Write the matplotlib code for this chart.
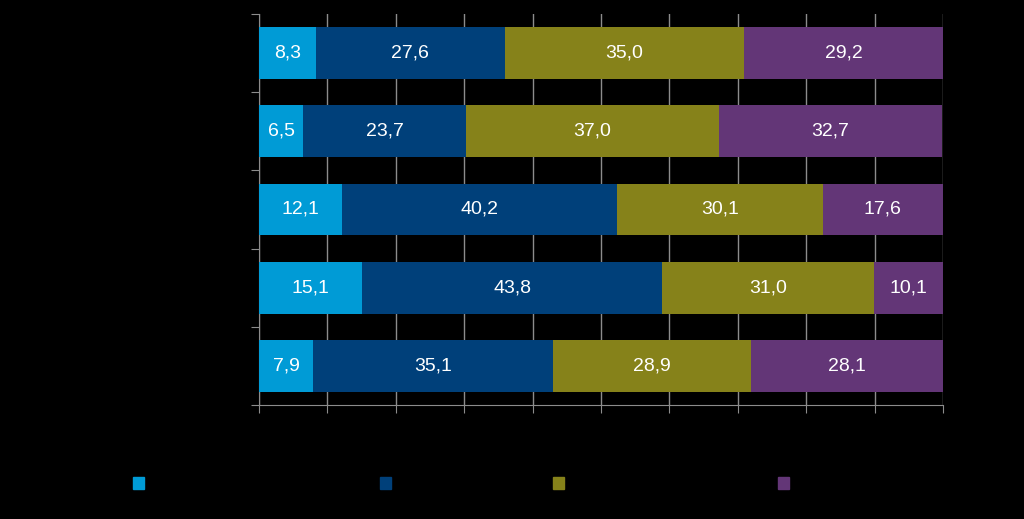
import numpy as np
import matplotlib.pyplot as plt
from matplotlib.patches import Patch

# Data (top row first)
categories = ['Group 1', 'Group 2', 'Group 3', 'Group 4', 'Group 5']
series_names = ['Series 1', 'Series 2', 'Series 3', 'Series 4']
s1 = [8.3, 6.5, 12.1, 15.1, 7.9]
s2 = [27.6, 23.7, 40.2, 43.8, 35.1]
s3 = [35.0, 37.0, 30.1, 31.0, 28.9]
s4 = [29.2, 32.7, 17.6, 10.1, 28.1]

colors = ['#009BD6', '#00407A', '#86821A', '#633677']

plt.rcParams['font.family'] = ['Liberation Sans', 'DejaVu Sans']

fig = plt.figure(figsize=(10.24, 5.19), dpi=100, facecolor='black')
ax = fig.add_axes([259 / 1024, 1 - 405 / 519, 684 / 1024, 391 / 519])
ax.set_facecolor('black')

n = len(categories)
y = np.arange(n)[::-1]  # first category on top
left = np.zeros(n)
for vals, col, name in zip([s1, s2, s3, s4], colors, series_names):
    vals = np.array(vals)
    ax.barh(y, vals, left=left, height=0.66, color=col, zorder=3, label=name)
    for yi, l, v in zip(y, left, vals):
        ax.text(l + v / 2, yi, f'{v:.1f}'.replace('.', ','), ha='center', va='center',
                color='white', fontsize=14, zorder=4)
    left += vals

ax.set_xlim(0, 100)
ax.set_ylim(-0.5, n - 0.5)

# gridlines every 10
ax.set_xticks(np.arange(0, 101, 10))
ax.xaxis.grid(True, color='#8c8c8c', linewidth=1, zorder=0)
ax.tick_params(axis='x', direction='out', length=6, color='#8c8c8c', labelcolor='black')

# category boundary ticks on the left
ax.set_yticks(np.arange(-0.5, n, 1.0))
ax.set_yticklabels([])
ax.set_yticks(y, minor=True)
ax.set_yticklabels(categories, minor=True, color='black')
ax.tick_params(axis='y', which='major', direction='out', length=6, color='#8c8c8c')
ax.tick_params(axis='y', which='minor', length=0)

for side in ['top', 'right']:
    ax.spines[side].set_visible(False)
for side in ['left', 'bottom']:
    ax.spines[side].set_color('#8c8c8c')

# legend markers (labels black on black as in the original)
legend_x = [133 / 1024, 380 / 1024, 553 / 1024, 778 / 1024]
for col, name, lx in zip(colors, series_names, legend_x):
    leg = fig.legend(handles=[Patch(color=col, label=name)], loc='center left',
                     bbox_to_anchor=(lx, 1 - 484 / 519), frameon=False,
                     handlelength=0.7, handleheight=0.85, fontsize=11,
                     labelcolor='black', borderpad=0, borderaxespad=0)

fig.savefig('out.png', dpi=100, facecolor='black')
